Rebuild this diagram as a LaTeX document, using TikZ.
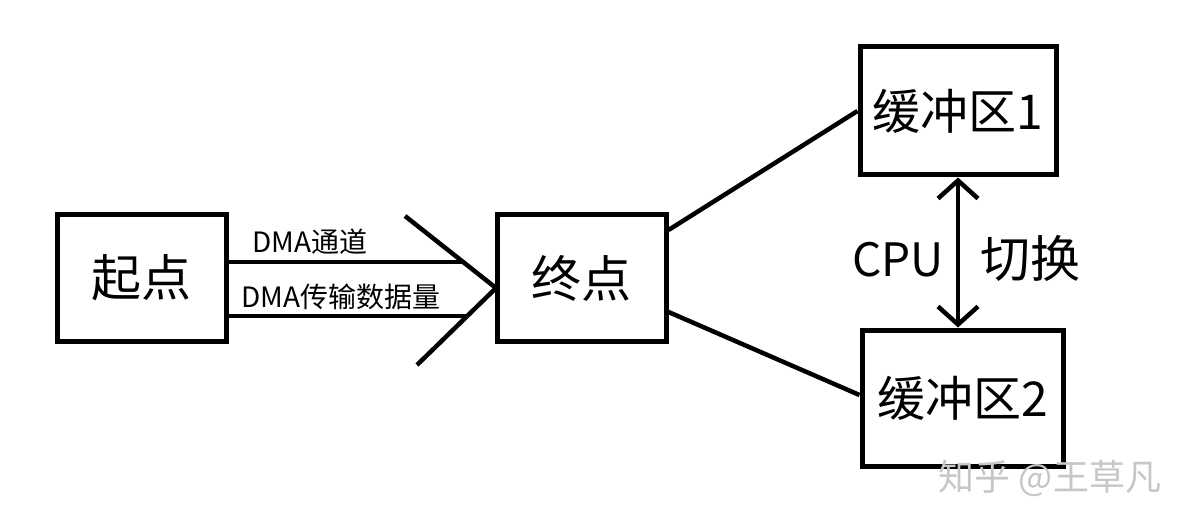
\documentclass[tikz,border=0pt]{standalone}
\usepackage{fontspec}
\setmainfont{Noto Sans CJK SC}
\usetikzlibrary{arrows.meta,calc}
\tikzset{
  box/.style={draw=black, line width=5pt, minimum width=#1, inner sep=0pt},
  conn/.style={line width=4.5pt},
  big/.style={font=\fontsize{50}{54}\selectfont},
  mid/.style={font=\fontsize{48}{52}\selectfont},
  small/.style={font=\fontsize{28}{30}\selectfont},
}
\begin{document}
\begin{tikzpicture}[x=1pt,y=-1pt]
\useasboundingbox[fill=white] (0,0) rectangle (1190,526);
\node[box=169pt, minimum height=126pt, big] (qd) at (141.5,278) {起点};
\node[box=169pt, minimum height=126pt, big] (zd) at (581.5,278) {\raisebox{-6pt}{终点}};
\node[box=196pt, minimum height=128pt, mid] (b1) at (958,111) {\raisebox{-5pt}{缓冲区1}};
\node[box=201pt, minimum height=136pt, mid] (b2) at (962.5,398) {缓冲区2};
\coordinate (l1) at (465,262);
\coordinate (l2) at (468,316);
\coordinate (tip) at (496,288);
\coordinate (d1) at (405,216);
\coordinate (d2) at (417,365);
\draw[conn] (qd.east |- l1) -- (l1);
\draw[conn] (qd.east |- l2) -- (l2);
\draw[conn] (d1) -- (tip) -- (d2);
\node[small] (t1) at (310,242) {DMA通道};
\node[small] (t2) at (341,297) {DMA传输数据量};
\draw[conn] ([yshift=48pt]zd.east) -- (b1.west);
\draw[conn] ([yshift=-34pt]zd.east) -- ([yshift=3pt]b2.west);
\draw[conn, {Straight Barb[length=18pt,width=40pt,line width=4.5pt]}-{Straight Barb[length=18pt,width=40pt,line width=4.5pt]}] (b1.south) -- (b1.south |- b2.north);
\node[font=\fontsize{46}{50}\selectfont] (cpu) at (898,260) {CPU};
\node[big] (qh) at (1030,258) {切换};
\node[font=\fontsize{36}{38}\selectfont, text=black!22] (wm) at (1050,478) {知乎 @王草凡};
\end{tikzpicture}
\end{document}
